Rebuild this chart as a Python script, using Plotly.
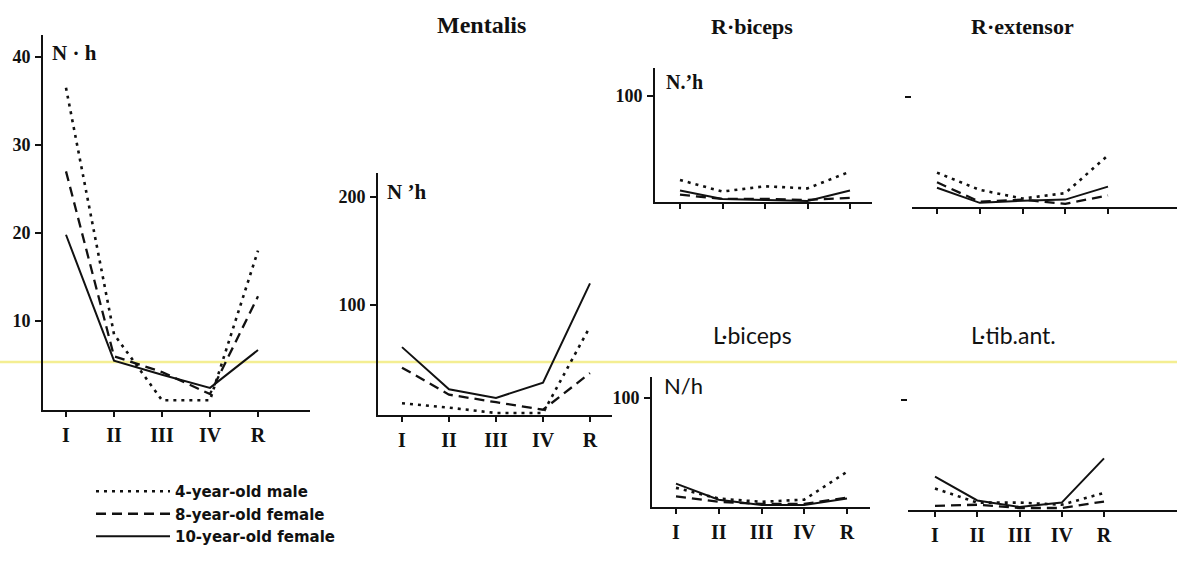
import plotly.graph_objects as go

W, H = 1177, 571

# ---------------- data ----------------
categories = ["I", "II", "III", "IV", "R"]
series_names = ["4-year-old male", "8-year-old female", "10-year-old female"]

# panel 1 (N·h, 0-40)
p1_male4 = [36.5, 8.5, 1.0, 1.0, 18.0]
p1_fem8 = [27.0, 6.0, 4.2, 1.7, 12.8]
p1_fem10 = [19.8, 5.5, 3.9, 2.4, 6.7]

# Mentalis
ment_male4 = [9, 5, 0, 0, 80]
ment_fem8 = [42, 17, 10, 3, 37]
ment_fem10 = [61, 22, 14, 28, 120]

# R-biceps
rbic_male4 = [20, 9, 14, 12, 28]
rbic_fem8 = [6, 2, 2, 1, 3]
rbic_fem10 = [10, 2, 1, 0, 10]

# R-extensor
rext_male4 = [30, 14, 6, 11, 46]
rext_fem8 = [21, 3, 5, 1, 9]
rext_fem10 = [16, 2, 4, 5, 17]

# L-biceps
lbic_male4 = [16, 6, 3, 5, 31]
lbic_fem8 = [8, 3, 1, 1, 7]
lbic_fem10 = [20, 5, 0, 0, 6]

# L-tib.ant.
ltib_male4 = [18, 5, 5, 3, 14]
ltib_fem8 = [2, 3, 0, 0, 6]
ltib_fem10 = [29, 7, 1, 5, 46]

styles = [
    dict(color="#111", width=2.6, dash="3px,5px"),
    dict(color="#111", width=2.3, dash="10px,6px"),
    dict(color="#111", width=2.0, dash="solid"),
]

SERIF = "Liberation Serif"
SANS = "Lato"

# panel geometry in pixels
panels = [
    dict(data=(p1_male4, p1_fem8, p1_fem10), x0=43, x1=310, cat0=66, step=48,
         ytop=35, ybot=410, zero=409, ppu=8.8, yticks=[10, 20, 30, 40], ylabels=True,
         yline=True, xlabels=True),
    dict(data=(ment_male4, ment_fem8, ment_fem10), x0=378, x1=612, cat0=402, step=47,
         ytop=173, ybot=415, zero=413, ppu=1.08, yticks=[100, 200], ylabels=True,
         yline=True, xlabels=True),
    dict(data=(rbic_male4, rbic_fem8, rbic_fem10), x0=655, x1=872, cat0=680, step=42.5,
         ytop=68, ybot=202, zero=201, ppu=1.05, yticks=[100], ylabels=True,
         yline=True, xlabels=False),
    dict(data=(rext_male4, rext_fem8, rext_fem10), x0=912, x1=1177, cat0=937, step=42.75,
         ytop=68, ybot=207, zero=205, ppu=1.08, yticks=[100], ylabels=False,
         yline=False, xlabels=False),
    dict(data=(lbic_male4, lbic_fem8, lbic_fem10), x0=652, x1=870, cat0=676, step=42.75,
         ytop=377, ybot=507, zero=505, ppu=1.07, yticks=[100], ylabels=True,
         yline=True, xlabels=True),
    dict(data=(ltib_male4, ltib_fem8, ltib_fem10), x0=908, x1=1177, cat0=935, step=42.25,
         ytop=377, ybot=510, zero=508, ppu=1.08, yticks=[100], ylabels=False,
         yline=False, xlabels=True),
]

fig = go.Figure()
layout = {}
xpos = list(range(len(categories)))

for i, p in enumerate(panels):
    n = "" if i == 0 else str(i + 1)
    xa, ya = "x" + n, "y" + n
    for k, vals in enumerate(p["data"]):
        fig.add_trace(go.Scatter(
            x=xpos, y=vals, mode="lines", line=styles[k],
            name=series_names[k], showlegend=(i == 0), legendrank=k + 1,
            xaxis=xa, yaxis=ya, hoverinfo="skip"))
    layout["xaxis" + n] = dict(
        domain=[p["x0"] / W, p["x1"] / W],
        range=[(p["x0"] - p["cat0"]) / p["step"], (p["x1"] - p["cat0"]) / p["step"]],
        anchor=ya, showgrid=False, zeroline=False, showline=True,
        linecolor="#111", linewidth=2, ticks="outside", ticklen=5, tickwidth=2,
        tickcolor="#111", tickvals=xpos, ticktext=categories,
        showticklabels=p["xlabels"], ticklabelstandoff=1,
        tickfont=dict(family=SERIF, size=20, color="#111", weight="bold"))
    layout["yaxis" + n] = dict(
        domain=[1 - p["ybot"] / H, 1 - p["ytop"] / H],
        range=[(p["zero"] - p["ybot"]) / p["ppu"], (p["zero"] - p["ytop"]) / p["ppu"]],
        anchor=xa, showgrid=False, zeroline=False, showline=p["yline"],
        linecolor="#111", linewidth=2, ticks="outside", ticklen=6, tickwidth=2,
        tickcolor="#111", tickvals=p["yticks"],
        showticklabels=p["ylabels"], ticklabelstandoff=1,
        tickfont=dict(family=SERIF, size=18, color="#111", weight="bold"))

annotations = [
    dict(text="N · h", x=50 / W, y=1 - 53 / H, xanchor="left", font=dict(family=SERIF, size=21, weight="bold")),
    dict(text="N ’h", x=385 / W, y=1 - 192 / H, xanchor="left", font=dict(family=SERIF, size=21, weight="bold")),
    dict(text="N.’h", x=664 / W, y=1 - 82 / H, xanchor="left", font=dict(family=SERIF, size=20, weight="bold")),
    dict(text="N/h", x=662 / W, y=1 - 385 / H, xanchor="left", font=dict(family=SANS, size=22)),
    dict(text="Mentalis", x=481 / W, y=1 - 25 / H, font=dict(family=SERIF, size=24, weight="bold")),
    dict(text="R·biceps", x=752 / W, y=1 - 26 / H, font=dict(family=SERIF, size=22, weight="bold")),
    dict(text="R·extensor", x=1022 / W, y=1 - 26 / H, font=dict(family=SERIF, size=22, weight="bold")),
    dict(text="L·biceps", x=752 / W, y=1 - 335 / H, font=dict(family=SANS, size=23)),
    dict(text="L·tib.ant.", x=1013 / W, y=1 - 335 / H, font=dict(family=SANS, size=23)),
]
for a in annotations:
    a.update(xref="paper", yref="paper", showarrow=False, yanchor="middle")
    a.setdefault("xanchor", "center")
    a["font"]["color"] = "#111"

fig.update_layout(
    **layout,
    width=W, height=H,
    margin=dict(l=0, r=0, t=0, b=0),
    paper_bgcolor="white", plot_bgcolor="rgba(0,0,0,0)",
    annotations=annotations,
    shapes=[dict(type="line", xref="paper", yref="paper", x0=0, x1=1,
                 y0=1 - 362 / H, y1=1 - 362 / H,
                 line=dict(color="rgba(240,232,110,0.75)", width=2.5), layer="below")],
    legend=dict(x=91 / W, y=1 - 475 / H, xanchor="left", yanchor="top",
                bgcolor="rgba(0,0,0,0)", itemwidth=74,
                font=dict(family="DejaVu Sans", size=15, color="#111", weight="bold"),
                tracegroupgap=0),
    showlegend=True,
)

fig.write_html("out.html", config={"displayModeBar": False},
               post_script="document.body.style.margin='0';")
